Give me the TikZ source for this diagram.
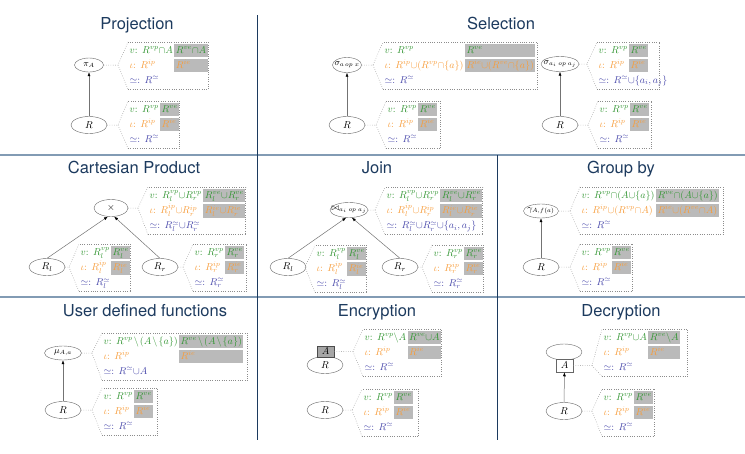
\documentclass[tikz,border=0pt]{standalone}
\usepackage{fontspec}
\usepackage{colortbl}
\usetikzlibrary{shapes.geometric,arrows.meta,calc}
\newfontfamily\titlefont{TeX Gyre Heros}
\definecolor{cv}{RGB}{52,150,52}
\definecolor{ci}{RGB}{247,157,60}
\definecolor{ce}{RGB}{72,72,170}
\definecolor{cg}{RGB}{186,186,186}
\definecolor{ctitle}{RGB}{28,58,94}
\definecolor{chline}{RGB}{130,155,180}
\newcommand\proftab[5]{%
\setlength\tabcolsep{1.5pt}\medmuskip=0mu\relax
\begin{tabular}{ll}
\textcolor{cv}{$v$: $#1$} & \cellcolor{cg}\textcolor{cv}{$#2$}\\ \noalign{\vskip2pt}
\textcolor{ci}{$\iota$: $#3$} & \cellcolor{cg}\textcolor{ci}{$#4$}\\ \noalign{\vskip2pt}
\multicolumn{2}{l}{\rlap{\textcolor{ce}{$\simeq$: $#5$}}}
\end{tabular}}
\newcommand\profbox[8]{%
  \node[tabnode] (#1) at #2 {\proftab{#4}{#5}{#6}{#7}{#8}};
  \draw[dotline] (#1.south west) -- ([xshift=#3pt]#1.south east) -- ([xshift=#3pt]#1.north east) -- (#1.north west);
}
\newcommand\callout[2]{%
  \draw[dotline] (#1.east) -- ($(#2.west |- #1.east)+(-10,0)$) coordinate (apx) -- (#2.north west);
  \draw[dotline] (apx) -- (#2.south west);
}
\newcommand\oplab[1]{\makebox[0pt]{$#1$}}
\newcommand\smin{\mkern2mu\setminus\mkern2mu}
\begin{document}
\begin{tikzpicture}[x=1pt,y=-1pt,
  tabnode/.style={anchor=north west, inner xsep=0pt, inner ysep=2pt, font=\fontsize{10}{13}\selectfont},
  dotline/.style={draw=black!45, line width=0.5pt, dash pattern=on 0.6pt off 1.7pt},
  opn/.style={ellipse, draw=black!60, line width=0.4pt, inner sep=0pt, font=\fontsize{9}{11}\selectfont},
  reln/.style={ellipse, draw=black!60, line width=0.4pt, inner sep=0pt, minimum width=36, minimum height=17},
  arr/.style={draw=black!55, line width=0.5pt, -{Latex[length=4pt,width=3pt,color=black]}},
  ttl/.style={anchor=base, text=ctitle, font=\titlefont\fontsize{16.5}{19}\selectfont},
  vline/.style={draw=ctitle, line width=1pt},
  hline/.style={draw=chline, line width=1.4pt}]
\useasboundingbox (0,0) rectangle (745,453);
% dividers
\draw[hline] (0,155) -- (745,155);
\draw[hline] (0,297) -- (745,297);
\draw[vline] (257.5,15) -- (257.5,440);
\draw[vline] (497,155) -- (497,440);
% titles
\node[ttl] (t1) at (137,29.5) {Projection};
\node[ttl] (t2) at (501,29.5) {Selection};
\node[ttl] (t3) at (134,173) {Cartesian Product};
\node[ttl] (t4) at (377,173) {Join};
\node[ttl] (t5) at (621,173) {Group by};
\node[ttl] (t6) at (145,316) {User defined functions};
\node[ttl] (t7) at (377,316) {Encryption};
\node[ttl] (t8) at (621,316) {Decryption};
% ---------- Projection
\node[opn, minimum width=29, minimum height=14] (pOp) at (89,65) {\oplab{\pi_A}};
\node[reln] (pR) at (89,125) {$R$};
\draw[arr] (pR) -- (pOp);
\profbox{P1}{(128,42)}{0}{R^{vp}\cap A}{R^{ve}\cap A}{R^{ip}}{R^{ie}}{R^{\simeq}}
\profbox{P2}{(128,101)}{0}{R^{vp}}{R^{ve}}{R^{ip}}{R^{ie}}{R^{\simeq}}
\callout{pOp}{P1}
\callout{pR}{P2}
% ---------- Selection
\node[opn, minimum width=29, minimum height=15] (sOp) at (347,65) {\oplab{\sigma_{a\,op\;x}}};
\node[reln] (sR) at (347,125) {$R$};
\draw[arr] (sR) -- (sOp);
\profbox{S1}{(383,42)}{1.5}{R^{vp}}{R^{ve}}{R^{ip}\cup(R^{vp}\cap\{a\})}{R^{ie}\cup(R^{ve}\cap\{a\})}{R^{\simeq}}
\profbox{S2}{(386,101)}{3}{R^{vp}}{R^{ve}}{R^{ip}}{R^{ie}}{R^{\simeq}}
\callout{sOp}{S1}
\callout{sR}{S2}
\node[opn, minimum width=38, minimum height=15] (tOp) at (560,64) {\oplab{\sigma_{a_i\;op\;a_j}}};
\node[reln] (tR) at (560,125) {$R$};
\draw[arr] (tR) -- (tOp);
\profbox{S3}{(597,42)}{11}{R^{vp}}{R^{ve}}{R^{ip}}{R^{ie}}{R^{\simeq}\cup\{a_i,a_j\}}
\profbox{S4}{(598,101)}{2}{R^{vp}}{R^{ve}}{R^{ip}}{R^{ie}}{R^{\simeq}}
\callout{tOp}{S3}
\callout{tR}{S4}
% ---------- Cartesian product
\node[reln, minimum width=34] (cOp) at (111,208) {$\times$};
\node[reln] (cRl) at (47,267) {$R_l$};
\node[reln] (cRr) at (160,267) {$R_r$};
\draw[arr] (cRl.north) -- (cOp.250);
\draw[arr] (cRr.north) -- (cOp.290);
\profbox{C1}{(148,187)}{0}{R_l^{vp}\cup R_r^{vp}}{R_l^{ve}\cup R_r^{ve}}{R_l^{ip}\cup R_r^{ip}}{R_l^{ie}\cup R_r^{ie}}{R_l^{\simeq}\cup R_r^{\simeq}}
\profbox{C2}{(79,244)}{0}{R_l^{vp}}{R_l^{ve}}{R_l^{ip}}{R_l^{ie}}{R_l^{\simeq}}
\profbox{C3}{(193,244)}{2}{R_r^{vp}}{R_r^{ve}}{R_r^{ip}}{R_r^{ie}}{R_r^{\simeq}}
\callout{cOp}{C1}
\callout{cRl}{C2}
\callout{cRr}{C3}
% ---------- Join
\node[opn, minimum width=38, minimum height=15] (jOp) at (349,210) {\oplab{\bowtie_{a_i\;op\;a_j}}};
\node[reln] (jRl) at (288,267) {$R_l$};
\node[reln] (jRr) at (400,267) {$R_r$};
\draw[arr] (jRl.north) -- (jOp.250);
\draw[arr] (jRr.north) -- (jOp.290);
\profbox{J1}{(385,187)}{0}{R_l^{vp}\cup R_r^{vp}}{R_l^{ve}\cup R_r^{ve}}{R_l^{ip}\cup R_r^{ip}}{R_l^{ie}\cup R_r^{ie}}{R_l^{\simeq}\cup R_r^{\simeq}\cup\{a_i,a_j\}}
\profbox{J2}{(315,245)}{0}{R_l^{vp}}{R_l^{ve}}{R_l^{ip}}{R_l^{ie}}{R_l^{\simeq}}
\profbox{J3}{(432,245)}{0}{R_r^{vp}}{R_r^{ve}}{R_r^{ip}}{R_r^{ie}}{R_r^{\simeq}}
\callout{jOp}{J1}
\callout{jRl}{J2}
\callout{jRr}{J3}
% ---------- Group by
\node[opn, minimum width=35, minimum height=14] (gOp) at (541,211) {\oplab{\gamma_{A,f(a)}}};
\node[reln] (gR) at (541,267) {$R$};
\draw[arr] (gR) -- (gOp);
\profbox{G1}{(580,187)}{4}{R^{vp}\cap(A\cup\{a\})}{R^{ve}\cap(A\cup\{a\})}{R^{ip}\cup(R^{vp}\cap A)}{R^{ie}\cup(R^{ve}\cap A)}{R^{\simeq}}
\profbox{G2}{(580,244)}{1}{R^{vp}}{R^{ve}}{R^{ip}}{R^{ie}}{R^{\simeq}}
\callout{gOp}{G1}
\callout{gR}{G2}
% ---------- User defined functions
\node[opn, minimum width=37, minimum height=14] (uOp) at (63,353) {\oplab{\mu_{A,a}}};
\node[reln] (uR) at (63,410) {$R$};
\draw[arr] (uR) -- (uOp);
\profbox{U1}{(102,333)}{4}{R^{vp}\smin(A\smin\{a\})}{R^{ve}\smin(A\smin\{a\})}{R^{ip}}{R^{ie}}{R^{\simeq}\cup A}
\profbox{U2}{(102,388)}{4}{R^{vp}}{R^{ve}}{R^{ip}}{R^{ie}}{R^{\simeq}}
\callout{uOp}{U1}
\callout{uR}{U2}
% ---------- Encryption
\node[reln] (eR) at (325,365) {$R$};
\node[draw=black!70, fill=black!35, line width=0.5pt, minimum width=17, minimum height=11, inner sep=0pt] (eA) at (325.5,351.5) {$A$};
\node[reln] (eR2) at (325,410) {$R$};
\profbox{E1}{(363,329)}{0}{R^{vp}\setminus A}{R^{ve}\cup A}{R^{ip}}{R^{ie}}{R^{\simeq}}
\profbox{E2}{(362,389)}{5}{R^{vp}}{R^{ve}}{R^{ip}}{R^{ie}}{R^{\simeq}}
\callout{eA}{E1}
\callout{eR2}{E2}
% ---------- Decryption
\node[reln, minimum height=16] (dE) at (564,352) {};
\node[draw=black!60, fill=white, line width=0.5pt, minimum width=17, minimum height=13, inner sep=0pt] (dA) at (564.5,365.5) {$A$};
\node[reln] (dR) at (564,411) {$R$};
\draw[arr] (dR) -- (dA);
\profbox{D1}{(602,329)}{7}{R^{vp}\cup A}{R^{ve}\setminus A}{R^{ip}}{R^{ie}}{R^{\simeq}}
\profbox{D2}{(602,389)}{1}{R^{vp}}{R^{ve}}{R^{ip}}{R^{ie}}{R^{\simeq}}
\callout{dA}{D1}
\callout{dR}{D2}
\end{tikzpicture}
\end{document}
